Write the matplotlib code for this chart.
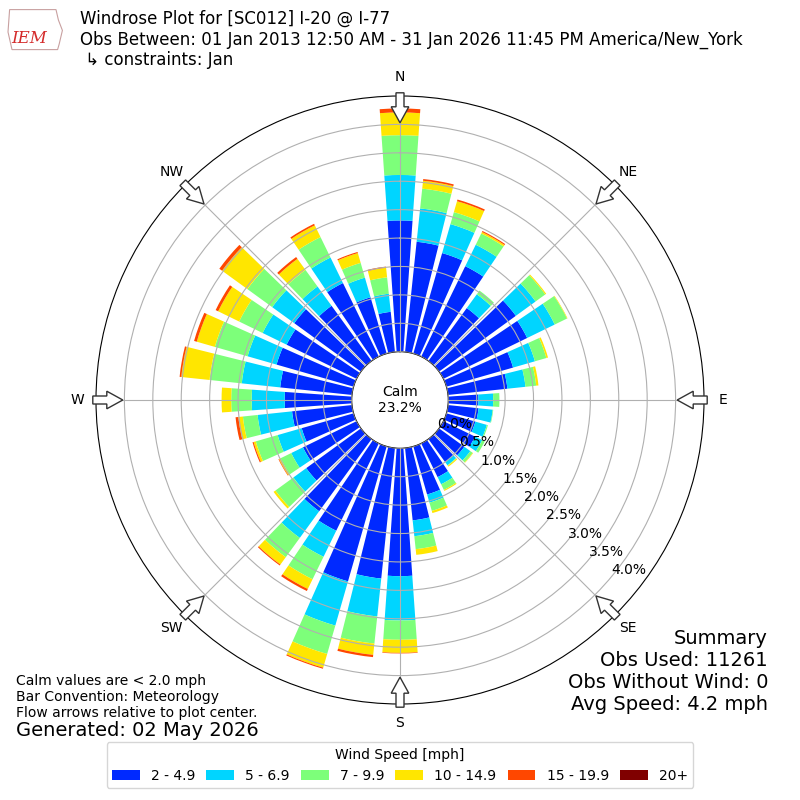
import numpy as np
import matplotlib
matplotlib.use("Agg")
import matplotlib.pyplot as plt
from matplotlib.patches import FancyArrow, Polygon

# direction bins (degrees, meteorological) and speed classes
directions = np.arange(0, 360, 10)
speed_labels = ["2 - 4.9", "5 - 6.9", "7 - 9.9", "10 - 14.9", "15 - 19.9", "20+"]

# frequency (%) per direction for each speed class
pct_2_5 = [2.31, 1.95, 1.84, 1.77, 1.15, 1.67, 1.64, 1.22, 1.05, 0.53, 0.54, 0.53,
           0.62, 0.55, 0.50, 0.66, 0.88, 1.28, 2.25, 2.31, 2.47, 1.71, 1.57, 1.19,
           1.05, 0.95, 1.06, 1.18, 1.27, 1.41, 1.37, 1.45, 1.20, 1.44, 1.03, 0.71]
pct_5_7 = [0.80, 0.59, 0.53, 0.42, 0.30, 0.43, 0.54, 0.40, 0.32, 0.26, 0.25, 0.21,
           0.14, 0.13, 0.07, 0.14, 0.15, 0.28, 0.78, 0.67, 0.81, 0.51, 0.58, 0.28,
           0.23, 0.44, 0.61, 0.58, 0.68, 0.53, 0.47, 0.48, 0.42, 0.50, 0.36, 0.32]
pct_7_10 = [0.70, 0.35, 0.22, 0.22, 0.08, 0.21, 0.24, 0.21, 0.19, 0.11, 0.01, 0.02,
            0.05, 0.05, 0.01, 0.11, 0.15, 0.23, 0.34, 0.48, 0.52, 0.44, 0.42, 0.39,
            0.21, 0.40, 0.26, 0.36, 0.57, 0.60, 0.46, 0.54, 0.36, 0.40, 0.27, 0.29]
pct_10_15 = [0.40, 0.14, 0.20, 0.03, 0.00, 0.02, 0.01, 0.03, 0.04, 0.00, 0.00, 0.00,
             0.00, 0.01, 0.02, 0.02, 0.04, 0.10, 0.23, 0.20, 0.25, 0.19, 0.16, 0.04,
             0.03, 0.04, 0.08, 0.17, 0.50, 0.33, 0.41, 0.55, 0.24, 0.23, 0.18, 0.17]
pct_15_20 = [0.07, 0.03, 0.03, 0.02, 0.00, 0.00, 0.00, 0.00, 0.00, 0.00, 0.00, 0.00,
             0.00, 0.00, 0.00, 0.00, 0.00, 0.00, 0.01, 0.04, 0.02, 0.04, 0.02, 0.00,
             0.01, 0.02, 0.05, 0.00, 0.03, 0.05, 0.05, 0.06, 0.04, 0.03, 0.02, 0.02]
pct_20p = [0.0] * 36

calm_pct = 23.2
obs_used = 11261
obs_no_wind = 0
avg_speed = 4.2

compass = ["N", "NE", "E", "SE", "S", "SW", "W", "NW"]

fig = plt.figure(figsize=(8, 8), dpi=100)
ax = fig.add_axes([0.12, 0.12, 0.76, 0.76], projection="polar")
ax.set_theta_zero_location("N")
ax.set_theta_direction(-1)

colors = plt.get_cmap("jet")(np.linspace(1 / 6, 1, 6))
theta = np.deg2rad(directions)
bottom = np.zeros(len(directions))
for vals, color, label in zip([pct_2_5, pct_5_7, pct_7_10, pct_10_15, pct_15_20, pct_20p],
                              colors, speed_labels):
    vals = np.asarray(vals)
    ax.bar(theta, vals, width=np.deg2rad(8), bottom=bottom, color=color,
           label=label, linewidth=0)
    bottom += vals

ax.set_ylim(0, 4.5)
ax.set_rorigin(-0.85)
rticks = np.arange(0, 4.01, 0.5)
ax.set_yticks(rticks)
ax.set_yticklabels([f"{v:.1f}%" for v in rticks])
ax.set_rlabel_position(130)
ax.set_thetagrids(np.arange(0, 360, 45), compass)
ax.tick_params(axis="x", pad=3)
ax.set_axisbelow(False)
ax.grid(True, color="#b0b0b0", lw=0.8)

ax.text(0.5, 0.5, f"Calm\n{calm_pct:.1f}%", transform=ax.transAxes,
        ha="center", va="center", fontsize=10)

# hollow flow arrows at the compass points
for ang in np.arange(0, 360, 45):
    a = np.deg2rad(ang)
    ux, uy = np.sin(a), np.cos(a)
    fig.add_artist(FancyArrow(0.5 + 0.384 * ux, 0.5 + 0.384 * uy,
                              -0.0375 * ux, -0.0375 * uy, width=0.01,
                              head_width=0.022, head_length=0.02,
                              length_includes_head=True, transform=fig.transFigure,
                              facecolor="white", edgecolor="#333333", lw=1))

# rough stand-in for the IEM logo
fig.add_artist(Polygon([[0.012, 0.988], [0.07, 0.988], [0.073, 0.975], [0.078, 0.962],
                        [0.074, 0.945], [0.072, 0.938], [0.015, 0.938], [0.01, 0.96]],
                       closed=True, transform=fig.transFigure, facecolor="none",
                       edgecolor="#c8a0a0", lw=0.8))
fig.text(0.037, 0.952, "IEM", color="#d42b2b", fontstyle="italic",
         family="DejaVu Serif", fontsize=12, ha="center", va="center")

fig.text(0.1, 0.988,
         "Windrose Plot for [SC012] I-20 @ I-77\n"
         "Obs Between: 01 Jan 2013 12:50 AM - 31 Jan 2026 11:45 PM America/New_York\n"
         " \u21b3 constraints: Jan",
         va="top", fontsize=12)

fig.text(0.96, 0.214,
         f"Summary\nObs Used: {obs_used}\nObs Without Wind: {obs_no_wind}\n"
         f"Avg Speed: {avg_speed:.1f} mph",
         ha="right", va="top", fontsize=14)
fig.text(0.02, 0.158,
         "Calm values are < 2.0 mph\nBar Convention: Meteorology\n"
         "Flow arrows relative to plot center.",
         va="top", fontsize=10)
fig.text(0.02, 0.0875, "Generated: 02 May 2026", va="center", fontsize=14)

handles, labels = ax.get_legend_handles_labels()
fig.legend(handles, labels, loc="lower center", bbox_to_anchor=(0.5, 0.006),
           ncol=6, title="Wind Speed [mph]", fontsize=10, title_fontsize=10,
           columnspacing=0.8)

fig.savefig("out.png", dpi=100)
